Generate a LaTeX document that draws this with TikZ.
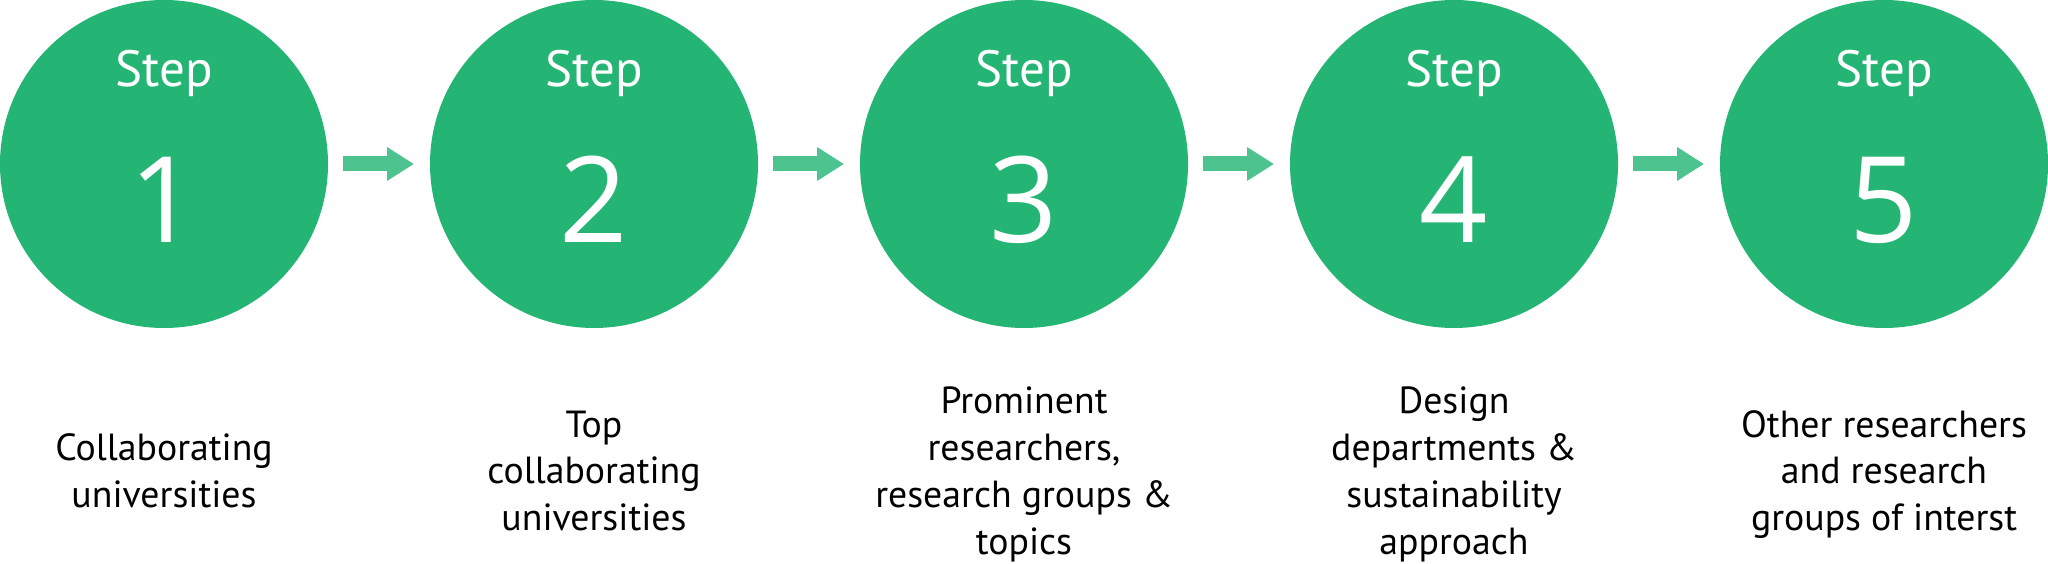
\documentclass[tikz,border=0pt]{standalone}
\usepackage{fontspec}
\setmainfont{PT Sans}
\newfontfamily\numberfont{Open Sans}
\usetikzlibrary{
  positioning,
  arrows.meta
}
\definecolor{stagegreen}{RGB}{36,181,116}
\definecolor{linkgreen}{RGB}{77,196,143}
\tikzset{
  % Shared values that are assigned to different keys in the styles below.
  globals/stage size/.initial=65.6mm,
  globals/stage gap/.initial=20.4mm,
%
  % For the green stage circles.
  stage circle/.style={
    circle,
    fill=stagegreen,
    minimum size=\pgfkeysvalueof{/tikz/globals/stage size},
    inner sep=0pt,
    outer sep=0pt},
%
  % For the small word at the top of a circle.
  stage word/.style={
    text=white,
    font={\fontsize{29pt}{35pt}\selectfont},
    inner sep=0pt,
    anchor=base},
%
  % For the large number in a circle.
  stage number/.style={
    text=white,
    font={\numberfont\fontsize{68pt}{82pt}\selectfont},
    inner sep=0pt,
    anchor=base},
%
  % For the thick arrows between circles.
  link/.style={
    linkgreen,
    line width=3mm,
    -{Triangle[length=5.4mm,width=6.4mm]},
    shorten <=3mm,
    shorten >=3.2mm},
%
  % For descriptions below the circles.
  description/.style={
    align=center,
    inner sep=0pt,
    font={\fontsize{21.5pt}{26.6pt}\selectfont}}
}

\begin{document}
\begin{tikzpicture}[x=0.2mm, y=0.2mm,
    node distance=\pgfkeysvalueof{/tikz/globals/stage gap}]
  \useasboundingbox (0,0) rectangle (2048,564);

  \node[stage circle] (stage1) at (164,400) {};
  \node[stage circle, right=of stage1] (stage2) {};
  \node[stage circle, right=of stage2] (stage3) {};
  \node[stage circle, right=of stage3] (stage4) {};
  \node[stage circle, right=of stage4] (stage5) {};

  \node[stage word] (word1) at ([yshift=15.4mm]stage1.center) {Step};
  \node[stage word] (word2) at ([yshift=15.4mm]stage2.center) {Step};
  \node[stage word] (word3) at ([yshift=15.4mm]stage3.center) {Step};
  \node[stage word] (word4) at ([yshift=15.4mm]stage4.center) {Step};
  \node[stage word] (word5) at ([yshift=15.4mm]stage5.center) {Step};

  \node[stage number] (number1) at ([yshift=-15.8mm]stage1.center) {1};
  \node[stage number] (number2) at ([yshift=-15.8mm]stage2.center) {2};
  \node[stage number] (number3) at ([yshift=-15.8mm]stage3.center) {3};
  \node[stage number] (number4) at ([yshift=-15.8mm]stage4.center) {4};
  \node[stage number] (number5) at ([yshift=-15.8mm]stage5.center) {5};

  \draw[link] (stage1) -- (stage2);
  \draw[link] (stage2) -- (stage3);
  \draw[link] (stage3) -- (stage4);
  \draw[link] (stage4) -- (stage5);

  % All descriptions share one centre line.
  \coordinate (textline) at (0,89.4);
  \node[description] (text1) at (stage1 |- textline)
    {\strut Collaborating\\universities\strut};
  \node[description] (text2) at (stage2 |- textline)
    {\strut Top\\collaborating\\universities\strut};
  \node[description] (text3) at (stage3 |- textline)
    {\strut Prominent\\researchers,\\research groups \&\\topics\strut};
  \node[description] (text4) at (stage4 |- textline)
    {\strut Design\\departments \&\\sustainability\\approach\strut};
  \node[description] (text5) at (stage5 |- textline)
    {\strut Other researchers\\and research\\groups of interst\strut};
\end{tikzpicture}
\end{document}
